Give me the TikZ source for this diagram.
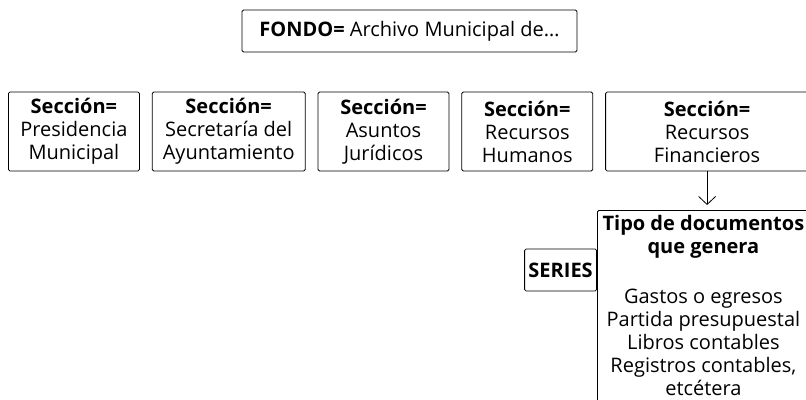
\documentclass[tikz,border=0pt]{standalone}
\usepackage{fontspec}
\setmainfont{Open Sans}
\usetikzlibrary{arrows.meta,positioning}

\begin{document}
\begin{tikzpicture}[x=1pt,y=-1pt,>={Straight Barb[length=8pt,width=17pt]},
                    line width=0.8pt]
  \tikzstyle{caja}=[draw,rounded corners=1.5pt,align=center,inner sep=2pt,
                    font=\fontsize{20}{23}\selectfont]
  \tikzstyle{seccion}=[caja,minimum height=79pt,minimum width=131pt]

  \clip (0,0) rectangle (806,399);

  \node[caja,minimum width=335pt,minimum height=42pt] (fondo) at (409.5,31)
       {\textbf{FONDO=} Archivo Municipal de\dots};

  \node[seccion,anchor=west] (presidencia) at (8,131.5)
       {\textbf{Sección=}\\Presidencia\\Municipal};
  \node[seccion,minimum width=153pt,right=12pt of presidencia] (secretaria)
       {\textbf{Sección=}\\Secretaría del\\Ayuntamiento};
  \node[seccion,right=12pt of secretaria] (juridicos)
       {\textbf{Sección=}\\Asuntos\\Jurídicos};
  \node[seccion,right=12pt of juridicos] (humanos)
       {\textbf{Sección=}\\Recursos\\Humanos};
  \node[seccion,minimum width=203pt,right=12pt of humanos] (financieros)
       {\textbf{Sección=}\\Recursos\\Financieros};

  \node[caja,anchor=north west,inner ysep=5pt,minimum width=212pt,text depth=40pt]
       (tipo) at (597,210)
       {\textbf{Tipo de documentos}\\\textbf{que genera}\\[27pt]
        Gastos o egresos\\Partida presupuestal\\Libros contables\\
        Registros contables,\\etcétera};
  \node[caja,anchor=east,minimum width=72pt,minimum height=42pt] (series)
       at (597,270) {\textbf{SERIES}};

  \draw[->,shorten >=5pt] (financieros) -- (financieros |- tipo.north);
\end{tikzpicture}
\end{document}
